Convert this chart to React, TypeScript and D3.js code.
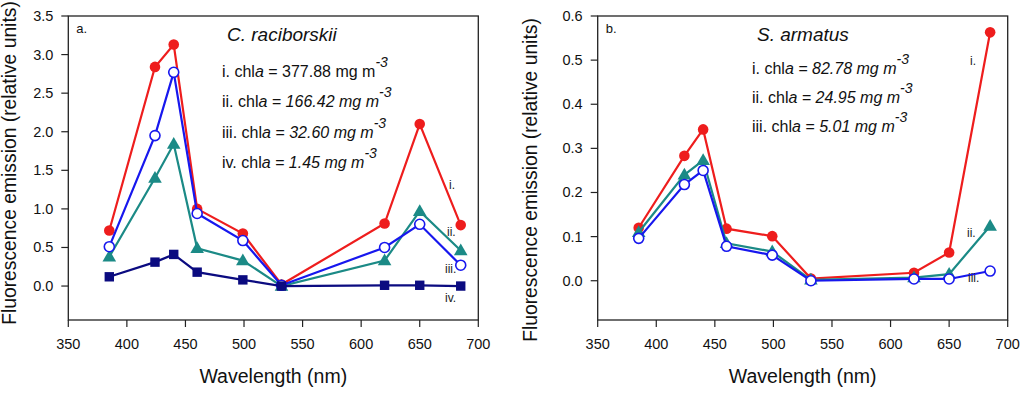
import React from "react";
import * as d3 from "d3";

// wavelengths (nm) shared by every series
const wavelengths = [385, 424, 440, 460, 499, 532, 620, 650, 685];

// panel a. C. raciborskii
const racI = [0.72, 2.84, 3.13, 1.0, 0.68, 0.02, 0.81, 2.1, 0.79];
const racII = [0.51, 1.95, 2.77, 0.94, 0.59, 0.01, 0.5, 0.8, 0.27];
const racIII = [0.38, 1.4, 1.84, 0.49, 0.33, 0.0, 0.33, 0.97, 0.46];
const racIV = [0.12, 0.31, 0.41, 0.18, 0.08, 0.0, 0.01, 0.01, 0.0];

// panel b. S. armatus
const armI = [0.12, 0.283, 0.343, 0.118, 0.101, 0.005, 0.018, 0.064, 0.563];
const armII = [0.11, 0.24, 0.273, 0.085, 0.066, 0.002, 0.007, 0.015, 0.124];
const armIII = [0.096, 0.218, 0.25, 0.078, 0.058, 0.0, 0.004, 0.004, 0.022];

const xTicks = [350, 400, 450, 500, 550, 600, 650, 700];
const racTicks = [0, 0.5, 1, 1.5, 2, 2.5, 3, 3.5];
const armTicks = [0, 0.1, 0.2, 0.3, 0.4, 0.5, 0.6];

const racNotes = [
  ["i. chl", "a", " = 377.88 mg m", false],
  ["ii. chl", "a", " = 166.42 mg m", true],
  ["iii. chl", "a", " = 32.60 mg m", true],
  ["iv. chl", "a", " = 1.45 mg m", true],
];
const armNotes = [
  ["i. chl", "a", " = 82.78 mg m", true],
  ["ii. chl", "a", " = 24.95 mg m", true],
  ["iii. chl", "a", " = 5.01 mg m", true],
];

const RED = "#ee1d1d";
const BLUE = "#1717ee";
const TEAL = "#1b8a86";
const NAVY = "#0b0b80";
const FONT = "Arial, 'Liberation Sans', sans-serif";

type Series = { values: number[]; color: string; marker: string; label: string; lx: number; ly: number };

const Marker = ({ x, y, color, marker }: any) => {
  if (marker === "circle") return <circle cx={x} cy={y} r={5.3} fill={color} />;
  if (marker === "open") return <circle cx={x} cy={y} r={5} fill="#fff" stroke={color} strokeWidth={1.6} />;
  if (marker === "square") return <rect x={x - 4.7} y={y - 4.7} width={9.4} height={9.4} fill={color} />;
  const s = d3.symbol(d3.symbolTriangle, 80)();
  return <path d={s as string} transform={`translate(${x},${y + 0.8})`} fill={color} />;
};

const Panel = (props: any) => {
  const { left, right, top, bottom, yDomain, yTicks, fmt, series, tag, title, titleX, notes, noteX, noteY, noteStep, ylabelX, ylabelY } = props;
  const x = d3.scaleLinear().domain([350, 700]).range([left, right]);
  const y = d3.scaleLinear().domain(yDomain).range([bottom, top]);
  const line = d3
    .line<number>()
    .x((_, i) => x(wavelengths[i]))
    .y((d) => y(d));

  return (
    <g fontFamily={FONT}>
      <rect x={left} y={top} width={right - left} height={bottom - top} fill="none" stroke="#222" strokeWidth={1.3} />
      {yTicks.map((t: number) => (
        <g key={t}>
          <line x1={left - 7} x2={left} y1={y(t)} y2={y(t)} stroke="#222" strokeWidth={1.2} />
          <text x={left - 15} y={y(t) + 5} fontSize={14.5} textAnchor="end" fill="#111">
            {fmt(t)}
          </text>
        </g>
      ))}
      {xTicks.map((t) => (
        <g key={t}>
          <line x1={x(t)} x2={x(t)} y1={bottom} y2={bottom + 7} stroke="#222" strokeWidth={1.2} />
          <text x={x(t)} y={bottom + 29} fontSize={14.5} textAnchor="middle" fill="#111">
            {t}
          </text>
        </g>
      ))}
      <text x={(left + right) / 2} y={383} fontSize={19.5} textAnchor="middle" fill="#111">
        Wavelength (nm)
      </text>
      <text
        transform={`translate(${ylabelX},${ylabelY}) rotate(-90)`}
        fontSize={19.3}
        textAnchor="middle"
        fill="#111"
      >
        Fluorescence emission (relative units)
      </text>
      <text x={left + 8} y={top + 17} fontSize={13} fill="#111">
        {tag}
      </text>
      <text x={titleX} y={top + 25} fontSize={19} fontStyle="italic" fill="#111">
        {title}
      </text>
      {notes.map((n: any, i: number) => (
        <text key={i} x={noteX} y={noteY + i * noteStep} fontSize={16} fill="#111">
          <tspan>{n[0]}</tspan>
          <tspan fontStyle="italic">{n[1]}</tspan>
          <tspan fontStyle={n[3] ? "italic" : "normal"}>{n[2]}</tspan>
          <tspan dy={-10} fontSize={14} fontStyle="italic">
            -3
          </tspan>
        </text>
      ))}
      {series.map((s: Series) => (
        <g key={s.label}>
          <path d={line(s.values) as string} fill="none" stroke={s.color} strokeWidth={2.2} />
          {s.values.map((v, i) => (
            <Marker key={i} x={x(wavelengths[i])} y={y(v)} color={s.color} marker={s.marker} />
          ))}
        </g>
      ))}
      {series.map((s: Series) => (
        <text key={s.label + "t"} x={s.lx} y={s.ly} fontSize={12} fill="#222">
          {s.label}
        </text>
      ))}
    </g>
  );
};

export default function App() {
  const f1 = d3.format(".1f");
  return (
    <svg width={1024} height={393} style={{ position: "absolute", left: 0, top: 0, background: "#fff" }}>
      <Panel
        left={68.3}
        right={478.3}
        top={16}
        bottom={320}
        yDomain={[-0.44, 3.5]}
        yTicks={racTicks}
        fmt={f1}
        tag="a."
        title="C. raciborskii"
        titleX={227}
        notes={racNotes}
        noteX={222}
        noteY={77}
        noteStep={30.4}
        ylabelX={16}
        ylabelY={163}
        series={[
          { values: racI, color: RED, marker: "circle", label: "i.", lx: 449, ly: 189 },
          { values: racIII, color: TEAL, marker: "triangle", label: "ii.", lx: 447, ly: 236 },
          { values: racII, color: BLUE, marker: "open", label: "iii.", lx: 445, ly: 273 },
          { values: racIV, color: NAVY, marker: "square", label: "iv.", lx: 445, ly: 302 },
        ]}
      />
      <Panel
        left={597.7}
        right={1007.7}
        top={16}
        bottom={320}
        yDomain={[-0.089, 0.6]}
        yTicks={armTicks}
        fmt={f1}
        tag="b."
        title="S. armatus"
        titleX={757}
        notes={armNotes}
        noteX={752}
        noteY={74}
        noteStep={29}
        ylabelX={537}
        ylabelY={180}
        series={[
          { values: armI, color: RED, marker: "circle", label: "i.", lx: 970, ly: 65 },
          { values: armII, color: TEAL, marker: "triangle", label: "ii.", lx: 967, ly: 237 },
          { values: armIII, color: BLUE, marker: "open", label: "iii.", lx: 968, ly: 282 },
        ]}
      />
    </svg>
  );
}
